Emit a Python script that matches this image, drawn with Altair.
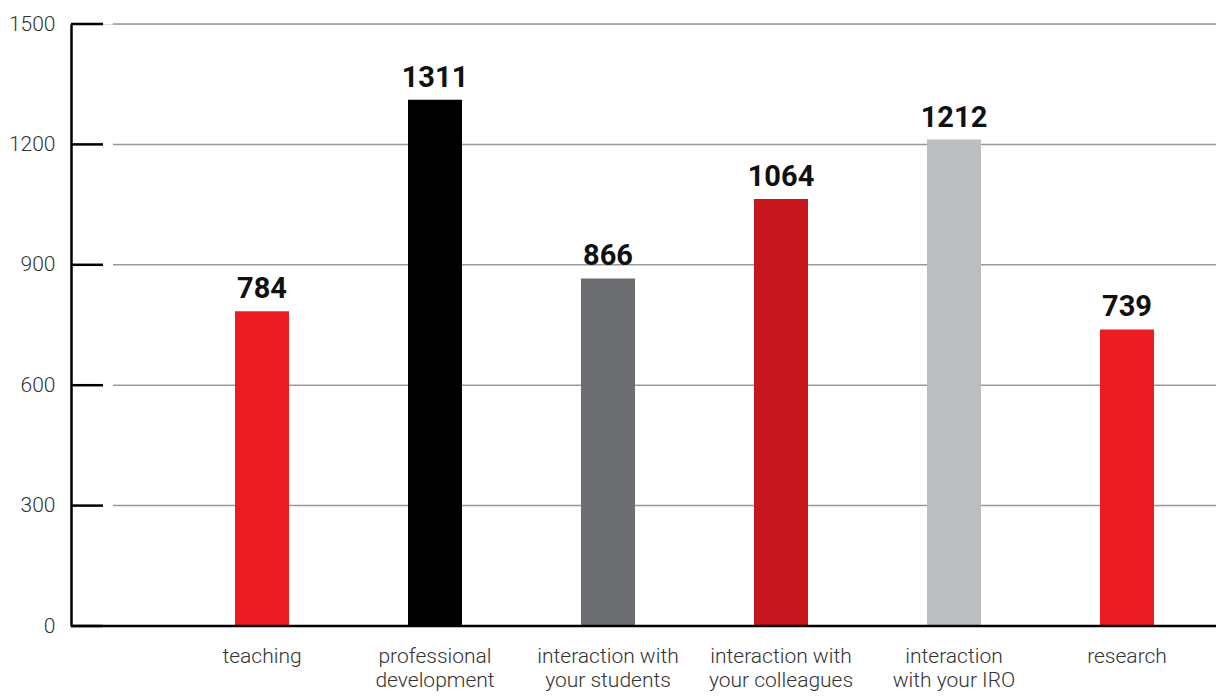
import altair as alt
import pandas as pd

categories = [
    "teaching",
    "professional\ndevelopment",
    "interaction with\nyour students",
    "interaction with\nyour colleagues",
    "interaction\nwith your IRO",
    "research",
]
values = [784, 1311, 866, 1064, 1212, 739]
colors = ["#ED1C24", "#000000", "#6D6E71", "#C4161C", "#BCBDC0", "#ED1C24"]
y_ticks = [0, 300, 600, 900, 1200, 1500]

W = 1145
H = 602
STEP = 173
x_start = 191 - STEP / 2
x_end = x_start + STEP * len(categories)

df = pd.DataFrame({"cat": categories, "value": values})
ticks_df = pd.DataFrame({"v": y_ticks})
grid_df = pd.DataFrame({"v": [t for t in y_ticks if t > 0]})

yscale = alt.Scale(domain=[0, 1500], nice=False, zero=True)
xscale = alt.Scale(domain=categories, range=[x_start, x_end], paddingInner=0, paddingOuter=0)

base = alt.Chart(df)

bars = base.mark_bar(size=54).encode(
    x=alt.X("cat:N", sort=categories, scale=xscale,
            axis=alt.Axis(title=None, domain=False, ticks=False, labelAngle=0,
                          labelExpr="split(datum.label, '\\n')",
                          labelFont="Roboto", labelFontSize=21, labelFontWeight=300,
                          labelColor="#333333",
                          labelPadding=19, labelLineHeight=24, labelBaseline="top")),
    y=alt.Y("value:Q", scale=yscale,
            axis=alt.Axis(title=None, grid=False, ticks=False, values=y_ticks, format="d",
                          domainColor="#000000", domainWidth=2.5,
                          labelFont="Roboto", labelFontSize=21, labelFontWeight=300,
                          labelColor="#333333", labelPadding=16)),
    color=alt.Color("cat:N", scale=alt.Scale(domain=categories, range=colors), legend=None),
)

text = base.mark_text(baseline="alphabetic", dy=-13, fontWeight="bold",
                      font="Roboto", fontSize=29, color="#111111").encode(
    x=alt.X("cat:N", sort=categories, scale=xscale),
    y=alt.Y("value:Q", scale=yscale),
    text=alt.Text("value:Q"),
)

grid = alt.Chart(grid_df).mark_rule(color="#999999", strokeWidth=1.5).encode(
    x=alt.value(42), x2=alt.value(W), y=alt.Y("v:Q", scale=yscale)
)
tickmarks = alt.Chart(ticks_df).mark_rule(color="#000000", strokeWidth=2.5).encode(
    x=alt.value(0), x2=alt.value(32), y=alt.Y("v:Q", scale=yscale)
)
baseline = alt.Chart(pd.DataFrame({"v": [0]})).mark_rule(color="#000000", strokeWidth=2.5).encode(
    x=alt.value(0), x2=alt.value(W), y=alt.Y("v:Q", scale=yscale)
)

chart = alt.layer(grid, bars, tickmarks, baseline, text).properties(
    width=W, height=H,
    autosize=alt.AutoSizeParams(type="none"),
    padding={"left": 63, "top": 16, "right": 0, "bottom": 66},
).configure_view(stroke=None).configure(background="#ffffff")

chart.save("out.html", embed_options={"renderer": "svg", "actions": False})
